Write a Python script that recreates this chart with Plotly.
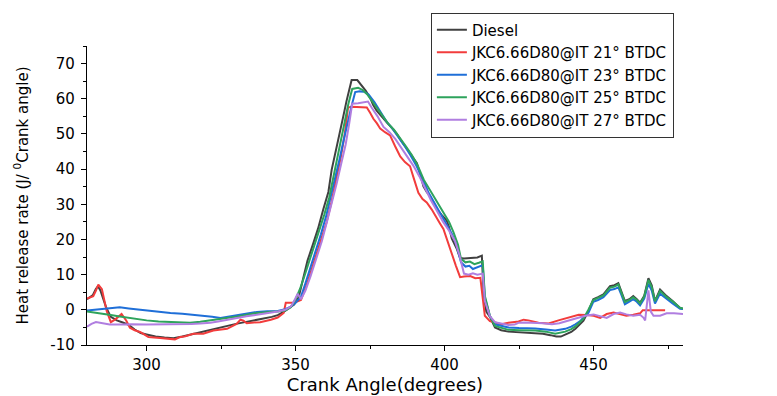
import plotly.graph_objects as go

# ---------------- data ----------------
diesel_x = [280, 281, 282, 283, 283.7, 284.5, 285.5, 286.5, 288, 290, 292, 294, 296, 298, 300, 303, 306, 309, 312, 315,
            318, 321, 324, 327, 330, 333, 336, 339, 342, 344, 346, 348, 349.5, 351, 352.6, 354, 355.9, 357.5, 359.3, 361,
            362.1, 363.5, 364.9, 366, 367.1, 368, 368.8, 370.7, 372, 373.5, 375, 376, 377.2, 379, 380.6, 382, 383.9,
            385.5, 387.3, 389, 390.7, 392, 392.9, 394, 395.1, 396.3, 397.4, 399, 400.7, 401.5, 402.4, 404, 405.2, 406.5,
            408, 409.5, 411, 412.5, 413.1, 414, 415.2, 416.9, 419, 421.4, 424, 427, 430.4, 433, 435.5, 437.5, 439, 440.5,
            442.5, 443.9, 445.5, 446.6, 448.3, 449.9, 451.5, 453.3, 455.5, 457, 458.3, 459.3, 460.5, 462, 463.3, 464.5,
            465.6, 467, 468.4, 469.5, 470.6, 472.3, 474.5, 476.5, 479, 480]
diesel_y = [3.0, 3.5, 4.2, 6.0, 6.7, 5.5, 3.0, 0.5, -2.0, -3.0, -3.6, -4.3, -5.6, -6.6, -7.0, -7.6, -7.9, -8.1, -7.6, -7.0,
            -6.2, -5.6, -5.0, -4.5, -4.0, -3.5, -3.0, -2.6, -2.0, -1.5, -0.6, 0.6, 1.5, 3.5, 9.5, 14.0, 18.8, 23.0, 28.6,
            33.5, 39.8, 45.0, 51.0, 55.0, 59.4, 62.5, 65.3, 65.3, 64.0, 62.3, 60.3, 58.3, 56.6, 55.0, 53.3, 52.0, 50.1,
            48.0, 45.9, 44.0, 41.7, 38.0, 35.1, 33.5, 32.3, 30.5, 28.6, 27.0, 25.4, 23.5, 20.3, 17.5, 14.7, 14.6, 14.7,
            14.8, 14.9, 15.4, 4.4, -0.5, -2.0, -5.0, -5.8, -6.2, -6.3, -6.5, -6.6, -6.8, -7.2, -7.6, -7.6, -7.0, -6.3,
            -5.4, -4.2, -3.1, -0.3, 3.0, 3.6, 4.4, 6.7, 7.0, 7.6, 5.5, 2.5, 3.0, 3.9, 3.0, 2.0, 4.0, 9.0, 7.0, 2.5, 5.8,
            3.9, 2.5, 0.5, 0.3]

it21_x = [280, 282.1, 283, 283.8, 285, 286.6, 288, 289.5, 291.6, 293.2, 294.4, 296, 297.8, 300.6, 304.5, 309.5, 311, 313,
          315.7, 319, 322.4, 325, 327, 330.2, 331.5, 332.5, 333.6, 336, 338.1, 341.7, 344, 346, 346.7, 348, 349.5, 351.8,
          353.5, 355.2, 357, 358.7, 360.4, 362, 363.7, 365.2, 366.5, 367.6, 368.8, 371, 373.9, 375, 376.1, 377.3, 378.4,
          380, 381.7, 383.4, 385.1, 386.7, 388.4, 389.8, 391.2, 392.6, 394, 395.7, 397.4, 398.5, 399.6, 401, 402.4, 403.8,
          405.2, 406.5, 408.6, 410.3, 412, 412.8, 413.5, 415.2, 416.9, 419, 421.4, 424.8, 426.5, 428.1, 431.5, 434.9,
          438.2, 441.6, 445, 447.7, 450, 452.2, 454.4, 456.7, 458.9, 461, 463.3, 465.6, 466.5, 467, 470, 474, 480]
it21_y = [3.2, 3.9, 5.5, 7.2, 5.9, -0.3, -3.5, -2.7, -1.2, -3.1, -5.1, -5.8, -6.3, -7.7, -8.0, -8.4, -7.8, -7.5, -6.8,
          -6.8, -5.9, -5.6, -5.4, -4.0, -2.8, -3.1, -3.8, -3.6, -3.5, -2.8, -2.2, -0.9, 2.0, 2.0, 2.0, 2.8, 6.5, 11.0,
          15.6, 20.0, 24.9, 30.5, 37.0, 43.5, 50.0, 57.5, 57.7, 57.7, 57.5, 56.0, 54.3, 53.0, 51.5, 50.5, 49.6, 46.5,
          43.6, 42.0, 40.8, 37.0, 33.3, 31.5, 30.5, 28.5, 26.3, 24.5, 23.0, 19.5, 15.6, 12.5, 9.3, 9.5, 9.6, 9.0, 9.1,
          2.5, -1.7, -3.2, -3.7, -4.1, -3.7, -3.3, -2.8, -3.0, -3.7, -3.9, -3.0, -2.1, -1.4, -1.5, -1.7, -2.3, -1.2, -0.8,
          -1.2, -1.7, -1.4, -1.0, -0.1, -0.1, -0.1, -0.1]

it23_x = [280, 283, 286, 289, 291, 294, 297, 300, 304, 308, 312, 316, 319, 322, 324.8, 327.5, 330.4, 333.5, 337, 340.5,
          344, 346.5, 348.4, 350, 351.8, 353.3, 355, 356.7, 358.5, 360.2, 361.8, 363.3, 364.8, 366.2, 367.5, 368.8, 370,
          371.5, 373, 374.5, 376.5, 378.5, 380.5, 382.5, 384.5, 386.5, 388.5, 390.5, 392.5, 394.5, 396.5, 398.5, 400.5,
          402.5, 404, 405.5, 407, 408.3, 409.5, 411, 412.8, 413.5, 415.2, 416.9, 419, 421.4, 425, 430.4, 434, 437.1,
          440.5, 442.5, 443.9, 445.5, 446.6, 448.3, 449.9, 451.5, 453.3, 455.5, 457, 458.3, 459.3, 460.5, 462, 463.3,
          464.5, 465.6, 467, 468.4, 469.5, 470.6, 472.3, 474.5, 476.5, 479, 480]
it23_y = [-0.2, 0.0, 0.2, 0.5, 0.7, 0.4, 0.1, -0.3, -0.6, -0.9, -1.1, -1.4, -1.7, -2.0, -2.3, -1.9, -1.5, -1.0, -0.6,
          -0.4, -0.3, 0.2, 0.9, 2.0, 3.7, 7.5, 12.0, 16.5, 21.5, 26.5, 32.0, 37.5, 43.0, 48.5, 53.5, 58.0, 61.9, 62.1,
          62.0, 61.2, 59.0, 56.3, 53.5, 51.5, 49.2, 46.7, 44.0, 41.0, 37.5, 33.5, 30.5, 27.5, 24.5, 21.5, 18.5, 13.5,
          12.3, 12.5, 11.6, 12.2, 12.7, 3.5, -1.8, -4.1, -4.6, -5.0, -5.2, -5.3, -5.6, -5.9, -5.4, -4.8, -4.1, -3.2,
          -2.2, -0.8, 2.3, 2.8, 3.6, 5.6, 5.9, 6.4, 4.3, 1.6, 2.3, 3.0, 2.3, 1.3, 3.2, 7.4, 5.5, 1.8, 4.6, 3.0, 1.8,
          0.3, 0.2]

it25_x = [280, 282, 285.4, 288, 291, 295, 300, 304, 308, 311, 314.6, 318, 321.4, 326, 330.4, 334, 337, 341, 344, 346.5,
          348.4, 350, 351.5, 353, 354.5, 356.3, 358, 359.6, 361.3, 362.6, 364, 365.3, 366.6, 367.7, 369, 371, 372.5,
          374, 375.5, 377.5, 379.5, 381, 383, 385, 387, 389, 391, 393, 395.5, 397.5, 399.5, 401.5, 403, 404.5, 405.5,
          407, 408.5, 410, 411.5, 412.8, 413.5, 415.2, 416.9, 419, 421.4, 425, 430.4, 434, 437.1, 440.5, 442.5, 443.9,
          445.5, 446.6, 448.3, 449.9, 451.5, 453.3, 455.5, 457, 458.3, 459.3, 460.5, 462, 463.3, 464.5, 465.6, 467,
          468.4, 469.5, 470.6, 472.3, 474.5, 476.5, 479, 480]
it25_y = [-0.5, -0.8, -1.2, -1.5, -1.9, -2.4, -3.0, -3.3, -3.5, -3.6, -3.7, -3.4, -3.0, -2.5, -1.9, -1.3, -0.9, -0.6,
          -0.5, -0.2, 0.7, 3.0, 6.0, 9.7, 13.5, 18.0, 22.5, 27.0, 32.0, 37.5, 43.0, 48.5, 54.0, 58.5, 62.8, 63.1, 62.5,
          61.3, 59.5, 57.0, 54.5, 53.0, 51.2, 49.0, 46.5, 44.0, 41.0, 37.0, 33.5, 30.5, 27.5, 25.0, 22.0, 18.5, 14.5,
          13.5, 13.7, 13.0, 13.4, 13.8, 4.0, -1.7, -4.6, -5.2, -5.7, -5.8, -5.9, -6.2, -6.8, -6.2, -5.5, -4.7, -3.5,
          -2.5, 0.1, 2.8, 3.4, 4.1, 6.3, 6.6, 7.2, 5.0, 2.2, 2.8, 3.6, 2.8, 1.8, 3.8, 8.5, 6.5, 2.4, 5.4, 3.6, 2.4,
          0.6, 0.4]

it27_x = [280, 281.5, 283, 285, 287.6, 291, 295, 300, 305, 310, 315, 318, 321.4, 324, 327, 330.4, 333.5, 337, 340.5, 344,
          346.5, 348.5, 349.8, 350.7, 351.8, 353.3, 355, 357, 358.8, 360.5, 362.2, 363.8, 365.3, 366.8, 368, 369, 371,
          373, 374.3, 375.5, 377.5, 379.5, 381.5, 383.5, 385.5, 387.5, 389.5, 391.5, 393.5, 395.5, 397.5, 399.5, 401.5,
          403.5, 405, 406.5, 408, 409.5, 411, 412.8, 413.5, 415.2, 416.9, 419, 421.4, 423.5, 424.8, 427, 430.4, 433,
          436, 438.5, 440.5, 443.9, 447.2, 450, 452.2, 454.4, 456.7, 458.9, 461, 463.3, 465.6, 466.7, 467.3, 468.4,
          469.2, 470.1, 472.3, 474.5, 477, 479, 480]
it27_y = [-4.8, -4.0, -3.5, -3.8, -4.2, -4.2, -4.1, -4.2, -4.2, -4.2, -4.0, -3.9, -3.7, -3.3, -2.8, -2.3, -1.8, -1.4,
          -1.0, -0.5, 0.0, 1.0, 3.0, 4.6, 3.0, 5.5, 9.5, 14.5, 19.5, 25.0, 30.5, 36.0, 41.5, 47.0, 53.0, 58.6, 58.7,
          58.9, 59.2, 57.5, 55.0, 52.0, 50.5, 48.5, 46.0, 43.5, 41.0, 38.0, 34.5, 31.0, 28.0, 25.0, 22.5, 19.5, 15.5,
          10.3, 10.0, 10.4, 10.0, 10.3, 2.5, -1.8, -3.5, -3.9, -4.3, -4.2, -3.7, -3.6, -3.7, -3.8, -4.1, -3.8, -3.3,
          -2.4, -1.7, -1.3, -1.7, -2.3, -1.2, -0.8, -1.3, -1.7, -1.4, -2.2, -3.0, 5.5, -0.5, -1.7, -1.7, -1.0, -1.0,
          -1.2, -1.2]

series_names = ["Diesel", "JKC6.66D80@IT 21° BTDC", "JKC6.66D80@IT 23° BTDC",
                "JKC6.66D80@IT 25° BTDC", "JKC6.66D80@IT 27° BTDC"]
series_colors = ["#404040", "#f23c3c", "#1f6fd8", "#2ea35c", "#b07ee0"]

x_tick_vals = [300, 350, 400, 450]
x_tick_text = ["300", "350", "400", "450"]
y_tick_vals = [-10, 0, 10, 20, 30, 40, 50, 60, 70]
y_tick_text = ["-10", "0", "10", "20", "30", "40", "50", "60", "70"]

# ---------------- figure ----------------
FONT = "DejaVu Sans"
fig = go.Figure()
xs = [diesel_x, it21_x, it23_x, it25_x, it27_x]
ys = [diesel_y, it21_y, it23_y, it25_y, it27_y]
for name, col, x, y in zip(series_names, series_colors, xs, ys):
    fig.add_trace(go.Scatter(x=x, y=y, mode="lines", name=name,
                             line=dict(color=col, width=2)))

fig.update_layout(
    width=777, height=396,
    margin=dict(l=87, r=94, t=41, b=51),
    paper_bgcolor="white", plot_bgcolor="white",
    font=dict(family=FONT, color="black"),
    showlegend=True,
    legend=dict(x=0.577, y=1.112, xanchor="left", yanchor="top",
                bgcolor="white", bordercolor="#333333", borderwidth=1,
                font=dict(family=FONT, size=15, color="black"),
                tracegroupgap=0),
)
fig.update_xaxes(range=[280, 480], showgrid=False, zeroline=False, automargin=False,
                 showline=True, linecolor="black", linewidth=1.3,
                 ticks="outside", ticklen=5, tickwidth=1.3, tickcolor="black",
                 tickvals=x_tick_vals, ticktext=x_tick_text, ticklabelstandoff=1,
                 tickfont=dict(family=FONT, size=15, color="black"),
                 minor=dict(ticks="outside", ticklen=3, tickwidth=1.2, tickcolor="black", dtick=25, tick0=275),
                 title=dict(text="Crank Angle(degrees)", font=dict(family=FONT, size=18, color="black"), standoff=2))
fig.update_yaxes(range=[-10, 75], showgrid=False, zeroline=False, automargin=False,
                 showline=True, linecolor="black", linewidth=1.3,
                 ticks="outside", ticklen=5, tickwidth=1.3, tickcolor="black",
                 tickvals=y_tick_vals, ticktext=y_tick_text, ticklabelstandoff=3,
                 tickfont=dict(family=FONT, size=15, color="black"),
                 minor=dict(ticks="outside", ticklen=3, tickwidth=1.2, tickcolor="black", dtick=5, tick0=-5),
                 title=dict(text="Heat release rate (J/ <sup>0</sup>Crank angle)",
                            font=dict(family=FONT, size=15, color="black"), standoff=18))

fig.write_html("out.html")
